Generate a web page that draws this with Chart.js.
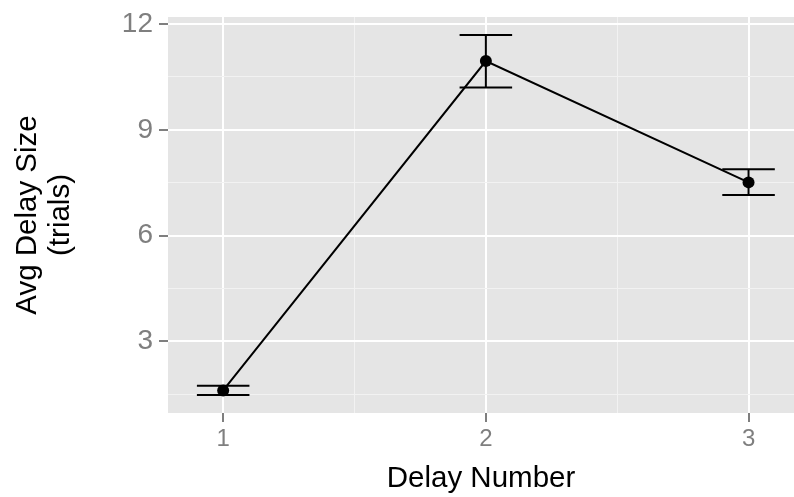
<!DOCTYPE html>
<html lang="en">
  <head>
    <meta charset="UTF-8" />
    <title>Avg Delay Size</title>
    <style>
      html, body { margin: 0; padding: 0; background: #fff; }
      .wrap { width: 794px; height: 497px; }
    </style>
  </head>
  <body>
    <div class="wrap"><canvas id="chart" width="794" height="497"></canvas></div>
    <script src="https://cdn.jsdelivr.net/npm/chart.js"></script>
    <script>
      // data
      const delayNumber = [1, 2, 3];
      const avgSize = [1.61, 10.95, 7.51];
      const lowerErr = [1.48, 10.2, 7.15];
      const upperErr = [1.74, 11.69, 7.88];

      // grid breaks (major + minor) and labelled ticks
      const xBreaks = [1, 1.5, 2, 2.5, 3];
      const yBreaks = [1.5, 3, 4.5, 6, 7.5, 9, 10.5, 12];
      const xLabels = [1, 2, 3];
      const yLabels = [3, 6, 9, 12];

      const panelBg = {
        id: "panelBg",
        beforeDraw(chart) {
          const { ctx, chartArea: a } = chart;
          ctx.save();
          ctx.fillStyle = "#E5E5E5";
          ctx.fillRect(a.left, a.top, a.right - a.left, a.bottom - a.top);
          ctx.restore();
        },
      };

      const errorBars = {
        id: "errorBars",
        beforeDatasetsDraw(chart) {
          const { ctx, scales } = chart;
          const x = scales.x, y = scales.y;
          ctx.save();
          ctx.strokeStyle = "#000";
          ctx.lineWidth = 2;
          delayNumber.forEach((d, i) => {
            const xc = x.getPixelForValue(d);
            const x0 = x.getPixelForValue(d - 0.1);
            const x1 = x.getPixelForValue(d + 0.1);
            const yl = y.getPixelForValue(lowerErr[i]);
            const yu = y.getPixelForValue(upperErr[i]);
            ctx.beginPath();
            ctx.moveTo(xc, yl); ctx.lineTo(xc, yu);
            ctx.moveTo(x0, yl); ctx.lineTo(x1, yl);
            ctx.moveTo(x0, yu); ctx.lineTo(x1, yu);
            ctx.stroke();
          });
          ctx.restore();
        },
      };

      const isMajorX = (v) => xLabels.includes(v);
      const isMajorY = (v) => yLabels.includes(v);

      new Chart(document.getElementById("chart"), {
        type: "line",
        data: {
          datasets: [
            {
              data: delayNumber.map((d, i) => ({ x: d, y: avgSize[i] })),
              borderColor: "#000",
              borderWidth: 2,
              pointRadius: 6,
              pointBackgroundColor: "#000",
              pointBorderWidth: 0,
              tension: 0,
            },
          ],
        },
        plugins: [panelBg, errorBars],
        options: {
          responsive: false,
          animation: false,
          layout: { autoPadding: false, padding: { top: 17, right: 0, left: 0, bottom: 0 } },
          plugins: { legend: { display: false }, tooltip: { enabled: false } },
          scales: {
            x: {
              type: "linear",
              min: 0.79,
              max: 3.173,
              afterBuildTicks: (s) => { s.ticks = xBreaks.map((v) => ({ value: v })); },
              afterFit: (s) => {
                s.height = 84;
                s.paddingLeft = 0;
                s.paddingRight = 0;
              },
              border: { display: false },
              grid: {
                color: (c) => (isMajorX(c.tick.value) ? "#FFFFFF" : "#F2F2F2"),
                lineWidth: (c) => (isMajorX(c.tick.value) ? 2 : 1),
                tickColor: (c) => (isMajorX(c.tick.value) ? "#7F7F7F" : "rgba(0,0,0,0)"),
                tickWidth: 2,
                tickLength: 9,
              },
              ticks: {
                autoSkip: false,
                maxRotation: 0,
                padding: 3,
                color: "#7F7F7F",
                font: { family: "Liberation Sans", size: 24 },
                callback: (v) => (isMajorX(v) ? String(v) : ""),
              },
              title: {
                display: true,
                text: "Delay Number",
                color: "#000",
                font: { family: "Liberation Sans", size: 29.5 },
                padding: { top: 0, bottom: 0 },
              },
            },
            y: {
              min: 0.97,
              max: 12.2,
              afterBuildTicks: (s) => { s.ticks = yBreaks.map((v) => ({ value: v })); },
              afterFit: (s) => {
                s.width = 168;
                s.paddingTop = 0;
                s.paddingBottom = 0;
              },
              border: { display: false },
              grid: {
                color: (c) => (isMajorY(c.tick.value) ? "#FFFFFF" : "#F2F2F2"),
                lineWidth: (c) => (isMajorY(c.tick.value) ? 2 : 1),
                tickColor: (c) => (isMajorY(c.tick.value) ? "#7F7F7F" : "rgba(0,0,0,0)"),
                tickWidth: 2,
                tickLength: 9,
              },
              ticks: {
                autoSkip: false,
                padding: 6,
                color: "#7F7F7F",
                font: { family: "Liberation Sans", size: 28 },
                callback: (v) => (isMajorY(v) ? String(v) : ""),
              },
              title: {
                display: true,
                text: ["Avg Delay Size", "(trials)"],
                color: "#000",
                font: { family: "Liberation Sans", size: 29.5, lineHeight: 1.13 },
                padding: { top: 11, bottom: 0 },
              },
            },
          },
        },
      });
    </script>
  </body>
</html>
